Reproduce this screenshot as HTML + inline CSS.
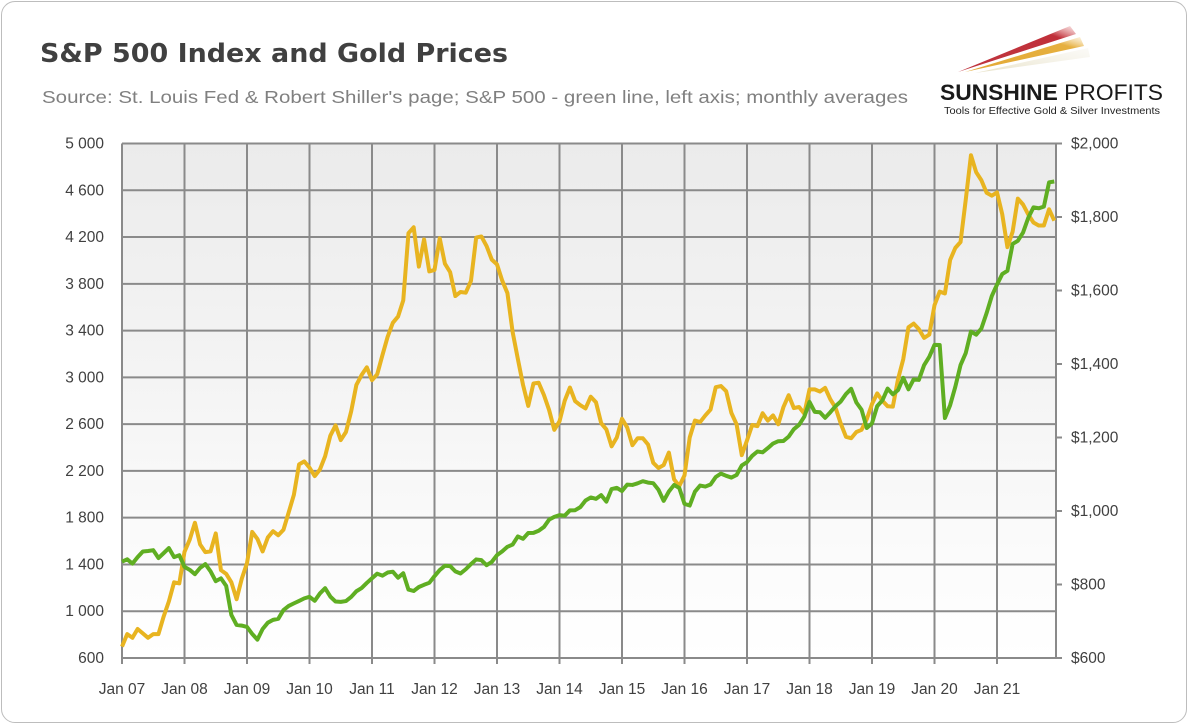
<!DOCTYPE html>
<html><head><meta charset="utf-8">
<style>
html,body{margin:0;padding:0;background:#fff;}
body{width:1190px;height:726px;overflow:hidden;font-family:"Liberation Sans",sans-serif;}
#card{position:absolute;left:1px;top:1px;width:1186px;height:722px;border:1px solid #bdbdbd;border-radius:14px;box-sizing:border-box;background:#fff;}
</style></head>
<body>
<div id="card"></div>
<svg id="chart" width="1190" height="726" style="position:absolute;left:0;top:0">
<defs>
<linearGradient id="bg" x1="0" y1="0" x2="0" y2="1">
<stop offset="0" stop-color="#ebebeb"/><stop offset="1" stop-color="#ffffff"/>
</linearGradient>
<linearGradient id="r1" x1="0" y1="1" x2="1" y2="0"><stop offset="0" stop-color="#b8202a" stop-opacity="0.9"/><stop offset="0.8" stop-color="#c0303a"/><stop offset="1" stop-color="#e9a0a0" stop-opacity="0.3"/></linearGradient>
<linearGradient id="r2" x1="0" y1="1" x2="1" y2="0"><stop offset="0" stop-color="#e0a020" stop-opacity="0.9"/><stop offset="0.8" stop-color="#e6b040"/><stop offset="1" stop-color="#f5d9a0" stop-opacity="0.3"/></linearGradient>
<linearGradient id="r3" x1="0" y1="1" x2="1" y2="0"><stop offset="0" stop-color="#e8e2c8"/><stop offset="1" stop-color="#f2efe4" stop-opacity="0.3"/></linearGradient>
</defs>
<text x="40" y="62" font-size="26" font-weight="bold" fill="#404040" textLength="468" lengthAdjust="spacingAndGlyphs" style="font-family:'DejaVu Sans',sans-serif">S&amp;P 500 Index and Gold Prices</text>
<text x="42" y="103" font-size="17.5" fill="#808080" textLength="866" lengthAdjust="spacingAndGlyphs">Source: St. Louis Fed &amp; Robert Shiller's page; S&amp;P 500 - green line, left axis; monthly averages</text>
<g>
<polygon points="958,72 1070,26 1076,34" fill="url(#r1)"/>
<polygon points="965,72 1080,37 1084,46" fill="url(#r2)"/>
<polygon points="975,73 1088,48 1090,57" fill="url(#r3)"/>
<text x="940" y="100" font-size="22" font-weight="bold" fill="#1a1a1a" textLength="223" lengthAdjust="spacingAndGlyphs">SUNSHINE <tspan font-weight="normal">PROFITS</tspan></text>
<text x="944" y="114" font-size="10.5" fill="#222" textLength="216" lengthAdjust="spacingAndGlyphs">Tools for Effective Gold &amp; Silver Investments</text>
</g>
<rect x="122" y="143.5" width="934" height="514.5" fill="url(#bg)"/>
<g id="grid"></g>
<g id="axes"></g>
<g id="series"></g>
</svg>
<script>
const years = ["Jan 07","Jan 08","Jan 09","Jan 10","Jan 11","Jan 12","Jan 13","Jan 14","Jan 15","Jan 16","Jan 17","Jan 18","Jan 19","Jan 20","Jan 21"];
const leftTicks = [600,1000,1400,1800,2200,2600,3000,3400,3800,4200,4600,5000];
const rightTicks = [600,800,1000,1200,1400,1600,1800,2000];
const sp500 = [
1424,1444,1407,1463,1511,1515,1522,1455,1497,1540,1463,1479,
1379,1354,1317,1371,1403,1341,1257,1281,1217,968,883,877,
866,806,757,848,902,926,935,1010,1045,1067,1088,1110,
1123,1089,1152,1197,1125,1083,1080,1087,1122,1171,1198,1242,
1282,1321,1304,1331,1338,1287,1325,1185,1173,1207,1226,1243,
1300,1352,1389,1386,1341,1323,1359,1403,1443,1437,1394,1422,
1480,1512,1551,1570,1640,1619,1669,1670,1688,1720,1783,1807,
1822,1817,1863,1864,1890,1947,1973,1961,1993,1937,2045,2055,
2028,2083,2080,2094,2112,2100,2095,2039,1944,2024,2080,2054,
1918,1904,2022,2075,2066,2084,2148,2177,2158,2143,2165,2247,
2275,2329,2366,2359,2395,2434,2454,2456,2493,2557,2594,2664,
2790,2705,2702,2654,2702,2754,2794,2857,2902,2785,2723,2567,
2607,2754,2804,2904,2855,2891,2996,2898,2983,2978,3104,3176,
3278,3277,2652,2762,2920,3105,3208,3392,3365,3418,3549,3695,
3793,3883,3911,4141,4168,4238,4364,4454,4446,4460,4668,4675];
const gold = [
631,665,655,679,667,655,665,665,713,754,806,803,
889,922,968,909,888,890,939,839,829,806,760,816,
858,943,924,890,928,945,934,949,996,1044,1127,1135,
1118,1095,1113,1149,1205,1233,1193,1215,1271,1343,1370,1391,
1356,1372,1424,1474,1512,1529,1573,1756,1772,1665,1739,1652,
1656,1742,1673,1650,1585,1596,1594,1626,1744,1747,1721,1684,
1671,1627,1593,1487,1414,1343,1286,1347,1349,1316,1275,1221,
1244,1300,1336,1299,1288,1279,1311,1296,1239,1222,1176,1200,
1251,1227,1179,1198,1198,1181,1131,1117,1125,1159,1086,1068,
1097,1200,1246,1242,1260,1276,1337,1340,1326,1267,1236,1152,
1192,1234,1231,1266,1246,1260,1236,1283,1315,1280,1283,1265,
1331,1331,1325,1335,1304,1281,1238,1202,1198,1215,1221,1250,
1291,1320,1300,1285,1284,1359,1413,1500,1510,1495,1471,1480,
1560,1597,1592,1683,1716,1732,1847,1968,1922,1900,1866,1858,
1867,1808,1718,1760,1850,1834,1807,1785,1777,1777,1821,1790];

const NS="http://www.w3.org/2000/svg";
const X0=122, YEARW=62.5, YT=143.5, YB=658;
function xAt(i){return X0+i*YEARW/12;}
function yL(v){return YB-(v-600)/4400*(YB-YT);}
function yR(v){return YB-(v-600)/1400*(YB-YT);}
function mk(tag,attrs,parent){const e=document.createElementNS(NS,tag);for(const k in attrs)e.setAttribute(k,attrs[k]);parent.appendChild(e);return e;}
const grid=document.getElementById('grid'), axes=document.getElementById('axes'), ser=document.getElementById('series');
leftTicks.forEach(v=>{
  const l=mk('line',{x1:X0,x2:1056,y1:yL(v),y2:yL(v),stroke:'#8a8a8a','stroke-width':2},grid);
  
  
  const t=mk('text',{x:104,y:yL(v)+5,'text-anchor':'end','font-size':15.5,fill:'#404040'},axes);
  t.textContent=v.toLocaleString('en-US').replace(',','\u00a0');
  
  
});
years.forEach((s,i)=>{
  const x=X0+i*YEARW;
  const l=mk('line',{x1:x,x2:x,y1:YT,y2:YB+6,stroke:'#8a8a8a','stroke-width':2},grid);
  
  
  const t=mk('text',{x:x,y:694,'text-anchor':'middle','font-size':15.5,fill:'#404040'},axes);
  t.textContent=s;
  
  
});
const rl=mk('line',{x1:1056,x2:1056,y1:YT,y2:YB,stroke:'#8a8a8a','stroke-width':2},grid);


rightTicks.forEach(v=>{
  const tk=mk('line',{x1:1056,x2:1062,y1:yR(v),y2:yR(v),stroke:'#8a8a8a','stroke-width':2},grid);
  
  
  const t=mk('text',{x:1071,y:yR(v)+5,'font-size':15.5,fill:'#404040'},axes);
  t.textContent='$'+v.toLocaleString('en-US');
  
  
});
const gp=mk('polyline',{points:gold.map((v,i)=>xAt(i)+','+yR(v)).join(' '),fill:'none',stroke:'#e8b420','stroke-width':4,'stroke-linejoin':'round'},ser);


const sp=mk('polyline',{points:sp500.map((v,i)=>xAt(i)+','+yL(v)).join(' '),fill:'none',stroke:'#5fae22','stroke-width':4,'stroke-linejoin':'round'},ser);


</script>
</body></html>
